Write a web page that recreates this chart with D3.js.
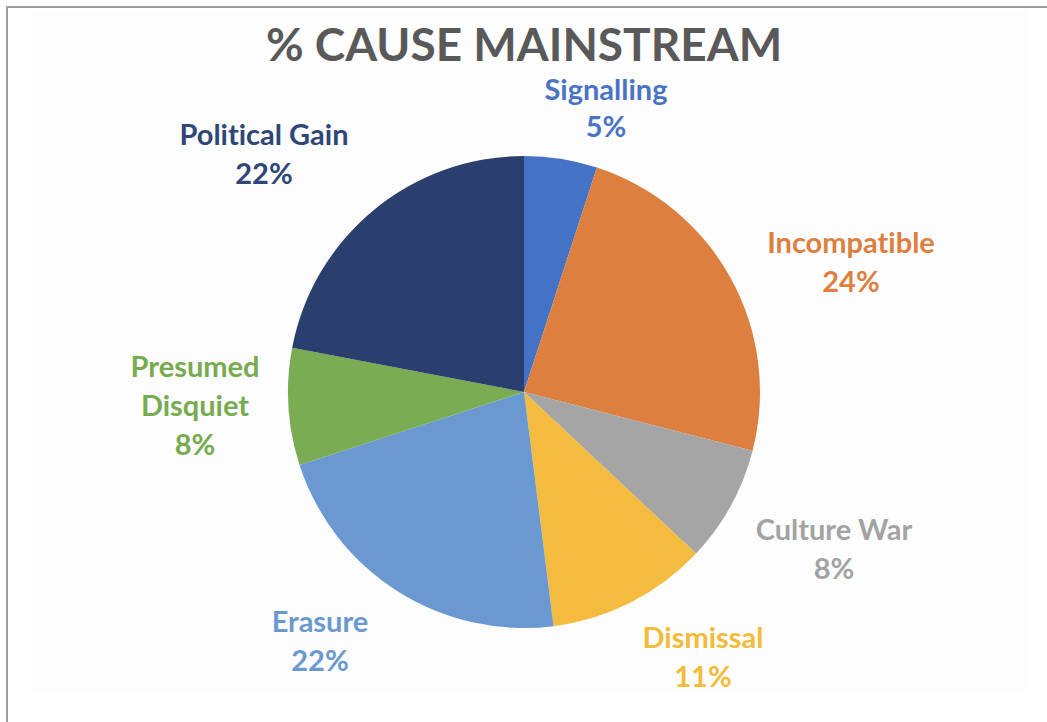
<!DOCTYPE html>
<html>
<head>
<meta charset="utf-8">
<script src="https://cdn.jsdelivr.net/npm/d3@7"></script>
<style>
  html, body { margin: 0; padding: 0; background: #ffffff; }
  svg { display: block; }
  text { font-family: Lato, "Open Sans", sans-serif; font-weight: 700; font-variant-ligatures: none; font-feature-settings: "liga" 0; }
</style>
</head>
<body>
<svg id="chart" width="1047" height="722"></svg>
<script>
// ---- data ----
const categories = ["Signalling", "Incompatible", "Culture War", "Dismissal", "Erasure", "Presumed Disquiet", "Political Gain"];
const values = [5, 24, 8, 11, 22, 8, 22];
const colors = ["#4472C4", "#DD7F3F", "#A5A5A5", "#F4BC3F", "#6A98D0", "#7AAD53", "#2B3F6E"];
const labelColors = ["#4A73C6", "#DD7F3F", "#A3A3A3", "#F3BB3A", "#6A98D0", "#77AB50", "#2F4678"];
const labelLines = [["Signalling"], ["Incompatible"], ["Culture War"], ["Dismissal"], ["Erasure"], ["Presumed", "Disquiet"], ["Political Gain"]];
const title = "% CAUSE MAINSTREAM";

// ---- layout ----
const W = 1047, H = 722;
const cx = 524, cy = 392, R = 236;
// first-baseline offsets of each label block relative to the pie centre
const labelOffset = [[82, -292], [327, -139], [310, 148], [179, 256], [-204, 240], [-329, -15], [-260, -247]];
const lineHs = [37, 39, 39, 39, 39, 39, 39];

const svg = d3.select("#chart");

// faint background panel + frame
svg.append("rect").attr("x", 33).attr("y", 10).attr("width", 994).attr("height", 680).attr("fill", "#fdfdfd");
svg.append("path").attr("d", `M7,${H} L7,7 L${W},7`).attr("fill", "none").attr("stroke", "#9e9e9e").attr("stroke-width", 2);

// title
svg.append("text").attr("x", cx).attr("y", 61).attr("text-anchor", "middle")
  .attr("font-size", 46).attr("fill", "#595959").text(title);

const data = categories.map((c, i) => ({ name: c, value: values[i], i }));
const total = d3.sum(values);
const pie = d3.pie().value(d => d.value).sort(null);
const arc = d3.arc().innerRadius(0).outerRadius(R);
const color = d3.scaleOrdinal().domain(categories).range(colors);

const g = svg.append("g").attr("transform", `translate(${cx},${cy})`);
const arcs = pie(data);
g.selectAll("path.slice").data(arcs).join("path").attr("class", "slice")
  .attr("d", arc).attr("fill", d => color(d.data.name));

const fmt = d3.format(".0%");
const lab = g.selectAll("g.lab").data(arcs).join("g").attr("class", "lab")
  .attr("transform", d => `translate(${labelOffset[d.index][0]},${labelOffset[d.index][1]})`);
lab.each(function(d) {
  const sel = d3.select(this);
  const lines = labelLines[d.index].concat([fmt(d.data.value / total)]);
  lines.forEach((t, k) => {
    sel.append("text").attr("x", 0).attr("y", k * lineHs[d.index]).attr("text-anchor", "middle")
      .attr("font-size", 29).attr("fill", labelColors[d.index]).text(t);
  });
});
</script>
</body>
</html>
